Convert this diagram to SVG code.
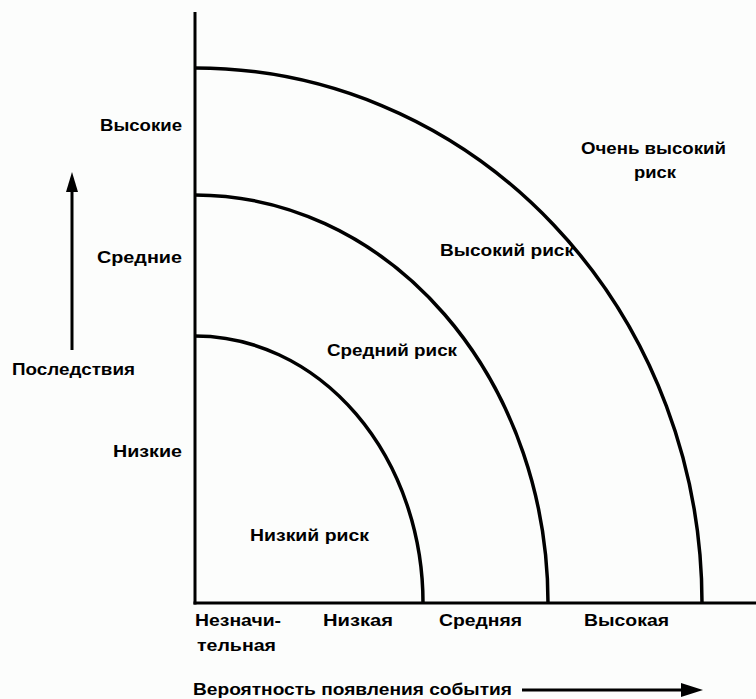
<svg xmlns="http://www.w3.org/2000/svg" width="756" height="699" viewBox="0 0 756 699">
<style>
.t{font-family:"Liberation Sans",Arial,sans-serif;font-size:17px;font-weight:bold;fill:#000}
.ax{stroke:#000;stroke-width:3;fill:none}
.arc{stroke:#000;stroke-width:3.5;fill:none}
</style>
<rect width="756" height="699" fill="#fcfdfc"/>
<g id="axes">
<line class="ax" x1="195" y1="12" x2="195" y2="604.5"/>
<line class="ax" x1="193.5" y1="603" x2="756" y2="603"/>
</g>
<g id="connectors">
<path id="arc-low" class="arc" d="M195,336 A228,267 0 0 1 423,603"/>
<path id="arc-mid" class="arc" d="M195,195 A353,408 0 0 1 548,603"/>
<path id="arc-high" class="arc" d="M195,68 A507,535 0 0 1 702,603"/>
<line class="ax" x1="72" y1="350" x2="72" y2="188"/>
<polygon points="72,172 66,192 78,192" fill="#000"/>
<line class="ax" x1="522" y1="690" x2="684" y2="690"/>
<polygon points="703,690 681,683 681,697" fill="#000"/>
</g>
<g id="y-labels">
<text class="t" x="182" y="131" text-anchor="end" textLength="82" lengthAdjust="spacingAndGlyphs">Высокие</text>
<text class="t" x="182" y="263" text-anchor="end" textLength="85" lengthAdjust="spacingAndGlyphs">Средние</text>
<text class="t" x="12" y="375" textLength="123" lengthAdjust="spacingAndGlyphs">Последствия</text>
<text class="t" x="182" y="457" text-anchor="end" textLength="69" lengthAdjust="spacingAndGlyphs">Низкие</text>
</g>
<g id="zone-low"><text class="t" x="250" y="541" textLength="119" lengthAdjust="spacingAndGlyphs">Низкий риск</text></g>
<g id="zone-mid"><text class="t" x="327" y="356" textLength="130" lengthAdjust="spacingAndGlyphs">Средний риск</text></g>
<g id="zone-high"><text class="t" x="440" y="256" textLength="134" lengthAdjust="spacingAndGlyphs">Высокий риск</text></g>
<g id="zone-veryhigh">
<text class="t" x="581" y="154" textLength="145" lengthAdjust="spacingAndGlyphs">Очень высокий</text>
<text class="t" x="634" y="178" textLength="42" lengthAdjust="spacingAndGlyphs">риск</text>
</g>
<g id="x-labels">
<text class="t" x="195" y="626" textLength="86" lengthAdjust="spacingAndGlyphs">Незначи-</text>
<text class="t" x="197" y="651" textLength="79" lengthAdjust="spacingAndGlyphs">тельная</text>
<text class="t" x="323" y="626" textLength="70" lengthAdjust="spacingAndGlyphs">Низкая</text>
<text class="t" x="439" y="626" textLength="83" lengthAdjust="spacingAndGlyphs">Средняя</text>
<text class="t" x="584" y="626" textLength="85" lengthAdjust="spacingAndGlyphs">Высокая</text>
<text class="t" x="193" y="695" textLength="319" lengthAdjust="spacingAndGlyphs">Вероятность появления события</text>
</g>
</svg>
